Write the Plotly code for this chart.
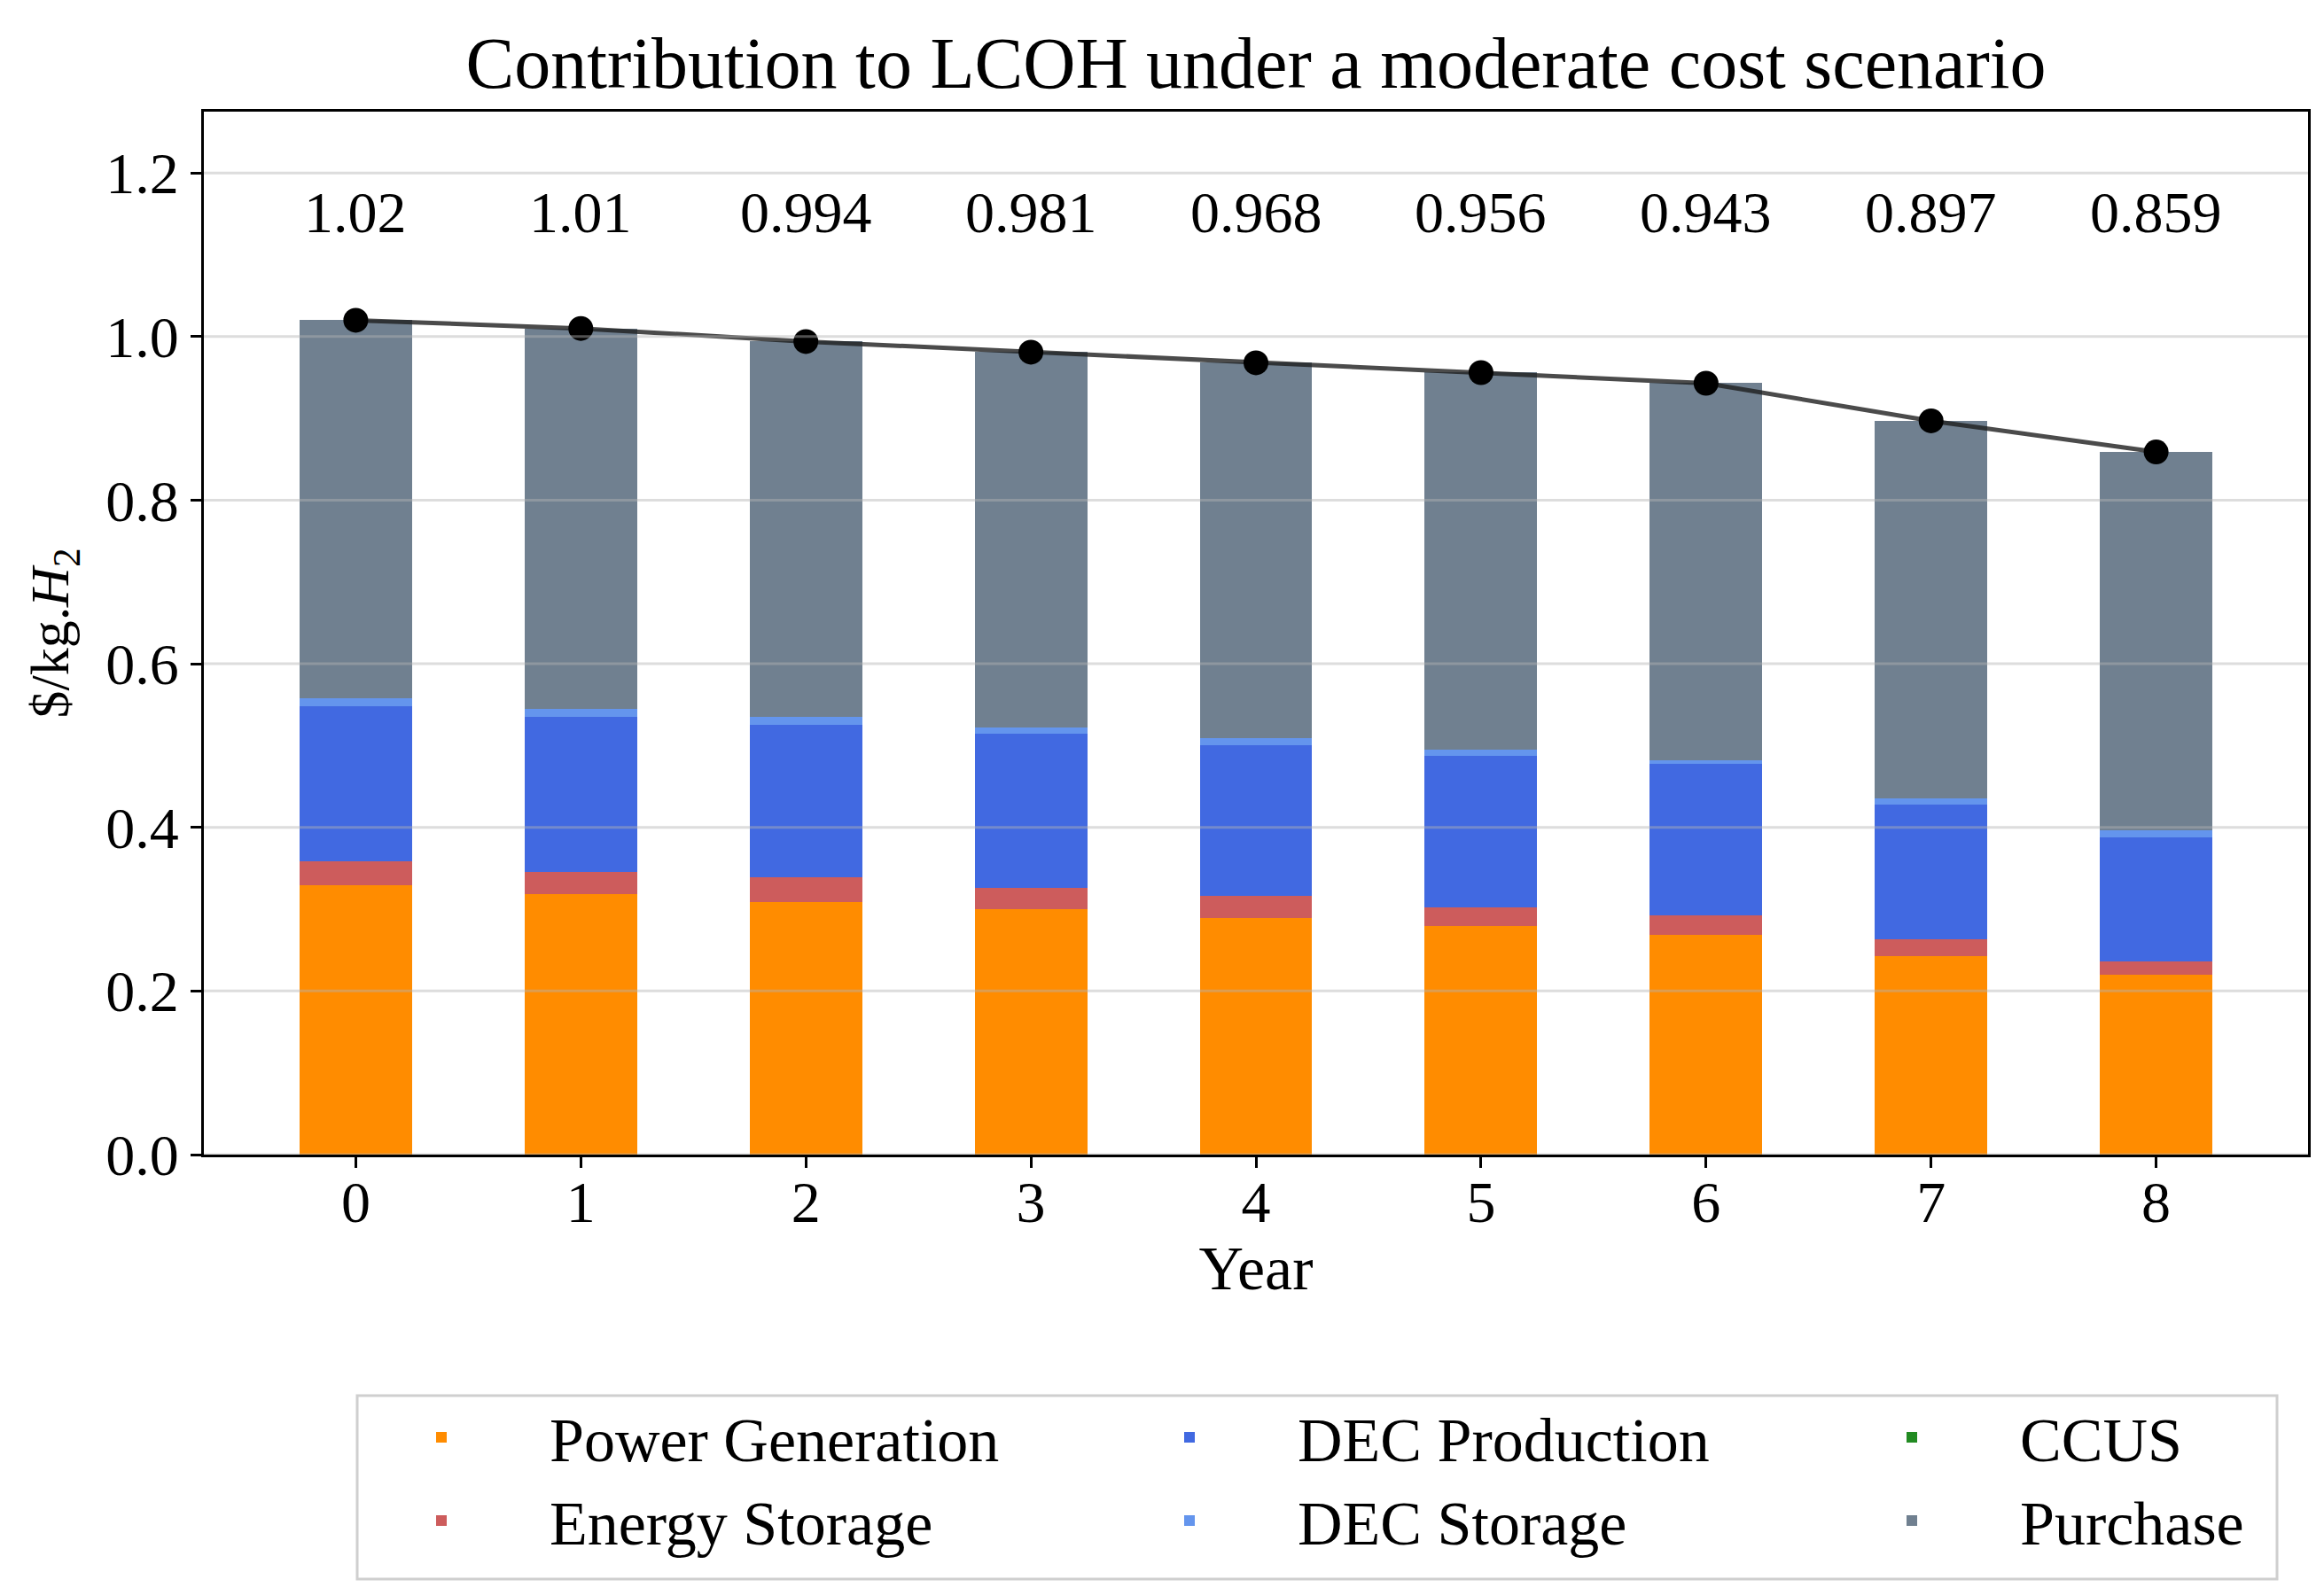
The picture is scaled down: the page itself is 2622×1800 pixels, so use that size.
import plotly.graph_objects as go

years = [0, 1, 2, 3, 4, 5, 6, 7, 8]
power_generation = [0.329, 0.319, 0.309, 0.300, 0.289, 0.279, 0.269, 0.243, 0.220]
energy_storage = [0.030, 0.027, 0.030, 0.026, 0.027, 0.023, 0.023, 0.020, 0.016]
dec_production = [0.189, 0.189, 0.186, 0.189, 0.185, 0.186, 0.186, 0.165, 0.152]
dec_storage = [0.010, 0.010, 0.010, 0.007, 0.008, 0.007, 0.004, 0.008, 0.008]
ccus = [0.0, 0.0, 0.0, 0.0, 0.0, 0.0, 0.0, 0.0, 0.0]
purchase = [0.462, 0.465, 0.459, 0.459, 0.459, 0.461, 0.461, 0.461, 0.463]
totals = [1.02, 1.01, 0.994, 0.981, 0.968, 0.956, 0.943, 0.897, 0.859]
total_labels = ["1.02", "1.01", "0.994", "0.981", "0.968", "0.956", "0.943", "0.897", "0.859"]
y_ticks = [0.0, 0.2, 0.4, 0.6, 0.8, 1.0, 1.2]
y_tick_labels = ["0.0", "0.2", "0.4", "0.6", "0.8", "1.0", "1.2"]

FONT = "Liberation Serif"

# (name, values, colour, legend column)
series = [
    ("Power Generation", power_generation, "#FF8C00", "legend"),
    ("Energy Storage", energy_storage, "#CD5C5C", "legend"),
    ("DEC Production", dec_production, "#4169E1", "legend2"),
    ("DEC Storage", dec_storage, "#6495ED", "legend2"),
    ("CCUS", ccus, "#228B22", "legend3"),
    ("Purchase", purchase, "#708090", "legend3"),
]

fig = go.Figure()
for name, vals, color, leg in series:
    fig.add_trace(go.Bar(
        x=years, y=vals, name=name, width=0.5,
        marker=dict(color=color, line=dict(width=0)),
        legend=leg,
    ))

fig.add_trace(go.Scatter(
    x=years, y=totals, mode="lines+markers", showlegend=False,
    line=dict(color="rgba(30,30,30,0.8)", width=5),
    marker=dict(color="black", size=28),
))

# total labels above the bars
for x, lab in zip(years, total_labels):
    fig.add_annotation(x=x, y=1.152, text=lab, showarrow=False,
                       font=dict(family=FONT, size=66, color="black"),
                       xref="x", yref="y")

# gridlines drawn above bars (semi-transparent), as in reference
for t in y_ticks:
    fig.add_shape(type="line", xref="paper", x0=0, x1=1, yref="y", y0=t, y1=t,
                  line=dict(color="rgba(180,180,180,0.45)", width=3), layer="above")

W, H = 2614, 1792
ML, MR, MT, MB = 222, 18, 118, 497
PW = W - ML - MR
PH = H - MT - MB
PB = H - MB  # plot bottom in px


def px_x(px):
    return (px - ML) / PW


def px_y(py):
    return -(py - PB) / PH


# legend frame
fig.add_shape(type="rect", xref="paper", yref="paper",
              x0=px_x(395), x1=px_x(2561), y0=px_y(1567), y1=px_y(1774),
              line=dict(color="#cfcfcf", width=3), fillcolor="rgba(0,0,0,0)", layer="below")

leg_common = dict(
    orientation="v", xanchor="left", yanchor="top", y=px_y(1562),
    bgcolor="rgba(0,0,0,0)", borderwidth=0,
    font=dict(family=FONT, size=70, color="black"),
    itemwidth=234, traceorder="normal",
)

fig.update_layout(
    width=W, height=H,
    barmode="stack",
    plot_bgcolor="white", paper_bgcolor="white",
    margin=dict(l=ML, r=MR, t=MT, b=MB),
    title=dict(text="Contribution to LCOH under a moderate cost scenario",
               x=(ML + (W - MR)) / 2 / W, xanchor="center", y=1 - 62 / H, yanchor="middle",
               font=dict(family=FONT, size=82, color="black")),
    font=dict(family=FONT, size=62, color="black"),
    legend=dict(x=px_x(368), **leg_common),
    legend2=dict(x=px_x(1212), **leg_common),
    legend3=dict(x=px_x(2027), **leg_common),
    showlegend=True,
)

fig.update_xaxes(
    range=[-0.675, 8.675], tickmode="array", tickvals=years,
    ticktext=[str(y) for y in years],
    showgrid=False, zeroline=False,
    showline=True, linecolor="black", linewidth=3, mirror=True,
    ticks="outside", ticklen=12, tickwidth=3, tickcolor="black",
    tickfont=dict(family=FONT, size=66),
    ticklabelstandoff=-18,
    title=dict(text="Year", font=dict(family=FONT, size=70), standoff=0),
)
fig.update_yaxes(
    range=[0, 1.275], tickmode="array", tickvals=y_ticks, ticktext=y_tick_labels,
    showgrid=False, zeroline=False,
    showline=True, linecolor="black", linewidth=3, mirror=True,
    ticks="outside", ticklen=12, tickwidth=3, tickcolor="black",
    tickfont=dict(family=FONT, size=66),
    title=dict(text="$/kg.<i>H</i><sub>2</sub>", font=dict(family=FONT, size=62), standoff=22),
)

fig.write_html("out.html")
